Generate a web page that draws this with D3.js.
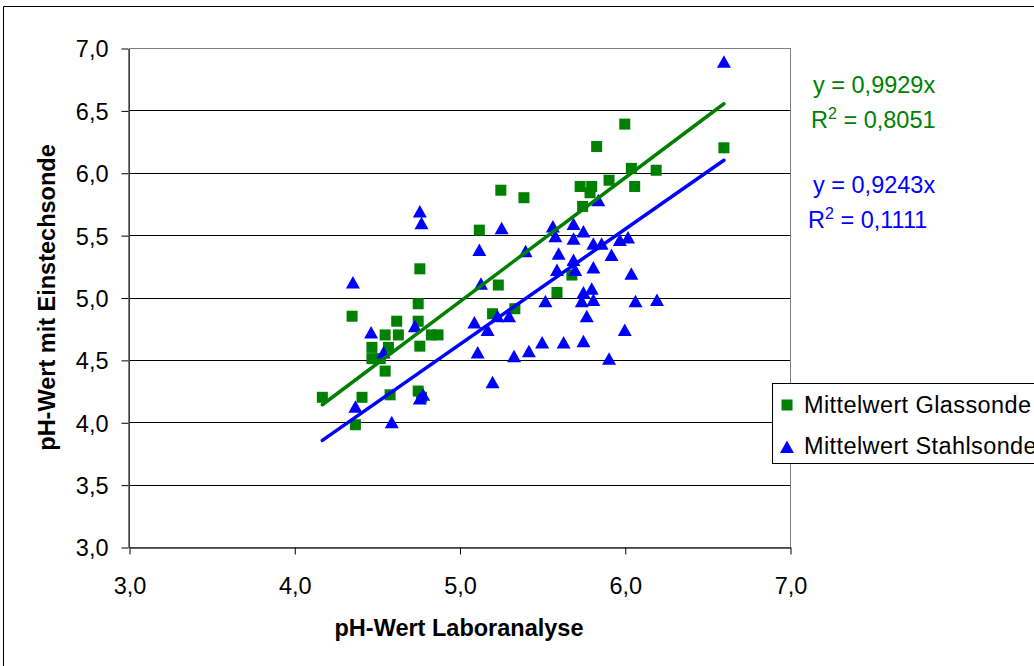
<!DOCTYPE html>
<html>
<head>
<meta charset="utf-8">
<script src="https://cdn.jsdelivr.net/npm/d3@7"></script>
<style>
  body { margin: 0; background: #fff; }
  svg { display: block; font-family: "Liberation Sans", Arial, sans-serif; }
</style>
</head>
<body>
<svg id="chart"></svg>
<script>
// Messwerte Glassonde (x = Labor, y = Sonde)
const glassX = [4.17, 4.35, 4.37, 4.41, 4.47, 4.47, 4.52, 4.55, 4.57, 4.55, 4.58, 4.62, 4.63, 4.75, 4.75, 4.76, 4.76, 4.75, 4.77, 4.83,
                4.87, 5.12, 5.20, 5.235, 5.25, 5.335, 5.39, 5.59, 5.68, 5.73, 5.745, 5.79, 5.80, 5.83, 5.905, 6.00, 6.04, 6.06, 6.19, 6.60];
const glassY = [4.20, 4.85, 3.98, 4.20, 4.60, 4.51, 4.51, 4.70, 4.60, 4.41, 4.22, 4.81, 4.70, 4.95, 4.81, 5.23, 4.61, 4.25, 4.20, 4.70,
                4.70, 5.54, 4.87, 5.10, 5.86, 4.91, 5.80, 5.04, 5.18, 5.89, 5.73, 5.84, 5.89, 6.21, 5.94, 6.39, 6.035, 5.89, 6.02, 6.20];

// Messwerte Stahlsonde
const stahlX = [4.355, 4.37, 4.465, 4.54, 4.59, 4.73, 4.76, 4.77, 4.76, 4.78, 5.09, 5.11, 5.12, 5.13, 5.17, 5.20, 5.23, 5.255, 5.30, 5.33,
                5.40, 5.42, 5.50, 5.52, 5.565, 5.58, 5.59, 5.60, 5.63, 5.69, 5.69, 5.69, 5.70, 5.74, 5.75, 5.75, 5.75, 5.77, 5.80, 5.81,
                5.81, 5.81, 5.84, 5.86, 5.905, 5.92, 5.97, 6.00, 6.02, 6.04, 6.065, 6.195, 6.60];
const stahlY = [5.12, 4.125, 4.72, 4.56, 4.00, 4.77, 5.69, 5.595, 4.19, 4.22, 4.80, 4.56, 5.38, 5.11, 4.74, 4.32, 4.85, 5.555, 4.85, 4.53,
                5.37, 4.57, 4.64, 4.97, 5.57, 5.49, 5.22, 5.35, 4.64, 5.59, 5.47, 5.30, 5.22, 4.97, 5.53, 5.04, 4.65, 4.85, 5.07, 5.43,
                5.24, 4.98, 5.78, 5.43, 4.51, 5.34, 5.46, 4.74, 5.48, 5.19, 4.97, 4.98, 6.89];

// Trendlinien (durch Ursprung) und Beschriftung
const slopes = [0.9929, 0.9243];
const eqLabels = ["y = 0,9929x", "y = 0,9243x"];
const r2Labels = [" = 0,8051", " = 0,1111"];
const seriesNames = ["Mittelwert Glassonde", "Mittelwert Stahlsonde"];
const colors = ["#008000", "#0000ff"];

// Achsen
const ticks = [3.0, 3.5, 4.0, 4.5, 5.0, 5.5, 6.0, 6.5, 7.0];
const xTicks = [3.0, 4.0, 5.0, 6.0, 7.0];

const width = 1034;
const height = 666;
const fs = 23.5;
const fmt = v => v.toFixed(1).replace('.', ',');

const svg = d3.select('#chart')
    .attr('width', width)
    .attr('height', height);

svg.append('rect').attr('width', width).attr('height', height).attr('fill', '#fff');

// Diagrammrahmen
svg.append('path')
    .attr('d', `M3.5,${height} V6.5 H${width}`)
    .attr('fill', 'none')
    .attr('stroke', '#000');

const x = d3.scaleLinear().domain([3, 7]).range([129, 790]);
const y = d3.scaleLinear().domain([3, 7]).range([547, 48]);

// Gitterlinien
svg.append('g')
    .selectAll('line')
    .data(ticks)
    .enter().append('line')
    .attr('x1', x(3)).attr('x2', x(7))
    .attr('y1', d => Math.round(y(d)) + 0.5)
    .attr('y2', d => Math.round(y(d)) + 0.5)
    .attr('stroke', '#000');

// Plotbereich
svg.append('rect')
    .attr('x', x(3) + 0.5).attr('y', Math.round(y(7)) + 0.5)
    .attr('width', x(7) - x(3)).attr('height', y(3) - y(7))
    .attr('fill', 'none')
    .attr('stroke', '#808080');

// Y-Achse
const yAxis = svg.append('g')
    .attr('transform', `translate(${x(3) - 0.5},0.5)`)
    .call(d3.axisLeft(y).tickValues(ticks).tickFormat(fmt).tickSizeInner(7).tickSizeOuter(0));
yAxis.select('.domain').attr('stroke', '#000');
yAxis.selectAll('.tick line').attr('stroke', '#000');
yAxis.selectAll('text')
    .attr('x', -20)
    .attr('dy', '0.36em')
    .style('font-size', fs + 'px')
    .style('font-family', '"Liberation Sans", Arial, sans-serif')
    .attr('fill', '#000');

// X-Achse
const xAxis = svg.append('g')
    .attr('transform', `translate(0.5,${y(3) + 0.5})`)
    .call(d3.axisBottom(x).tickValues(xTicks).tickFormat(fmt).tickSizeInner(7).tickSizeOuter(0));
xAxis.select('.domain').attr('stroke', '#333').attr('stroke-width', 1.5);
xAxis.selectAll('.tick line').attr('stroke', '#000');
xAxis.selectAll('text')
    .attr('y', 30)
    .attr('dy', '0.71em')
    .style('font-size', fs + 'px')
    .style('font-family', '"Liberation Sans", Arial, sans-serif')
    .attr('fill', '#000');

// Achsentitel
svg.append('text')
    .attr('x', 459).attr('y', 636)
    .attr('text-anchor', 'middle')
    .style('font-size', fs + 'px')
    .style('font-weight', 'bold')
    .text('pH-Wert Laboranalyse');

svg.append('text')
    .attr('transform', `translate(55,${(y(3) + y(7)) / 2}) rotate(-90)`)
    .attr('text-anchor', 'middle')
    .style('font-size', fs + 'px')
    .style('font-weight', 'bold')
    .text('pH-Wert mit Einstechsonde');

// Marker
const sq = 11;
const tri = 'M0,-6.5 L7,6 L-7,6 Z';

svg.append('g')
    .selectAll('rect')
    .data(d3.zip(glassX, glassY))
    .enter().append('rect')
    .attr('x', d => x(d[0]) - sq / 2)
    .attr('y', d => y(d[1]) - sq / 2)
    .attr('width', sq).attr('height', sq)
    .attr('fill', colors[0]);

svg.append('g')
    .selectAll('path')
    .data(d3.zip(stahlX, stahlY))
    .enter().append('path')
    .attr('d', tri)
    .attr('transform', d => `translate(${x(d[0])},${y(d[1])})`)
    .attr('fill', colors[1]);

// Trendlinien
const xExt = d3.extent(glassX.concat(stahlX));
svg.append('g')
    .selectAll('line')
    .data(slopes)
    .enter().append('line')
    .attr('x1', x(xExt[0])).attr('y1', (d) => y(d * xExt[0]))
    .attr('x2', x(xExt[1])).attr('y2', (d) => y(d * xExt[1]))
    .attr('stroke', (d, i) => colors[i])
    .attr('stroke-width', 3.5)
    .attr('stroke-linecap', 'round');

// Gleichungen
const eqPos = [[813, 93, 811, 128], [813, 193, 808, 228]];
eqLabels.forEach((lbl, i) => {
    svg.append('text')
        .attr('x', eqPos[i][0]).attr('y', eqPos[i][1])
        .attr('fill', colors[i])
        .style('font-size', fs + 'px')
        .text(lbl);
    const t = svg.append('text')
        .attr('x', eqPos[i][2]).attr('y', eqPos[i][3])
        .attr('fill', colors[i])
        .style('font-size', fs + 'px');
    t.append('tspan').text('R');
    t.append('tspan').attr('dy', -9).style('font-size', '16px').text('2');
    t.append('tspan').attr('dy', 9).text(r2Labels[i]);
});

// Legende
const legend = svg.append('g');
legend.append('rect')
    .attr('x', 772.5).attr('y', 383.5)
    .attr('width', 280).attr('height', 80)
    .attr('fill', '#fff')
    .attr('stroke', '#000');

const legendItem = legend.selectAll('.legend-item')
    .data(seriesNames)
    .enter().append('g')
    .attr('class', 'legend-item')
    .attr('transform', (d, i) => `translate(787,${405 + i * 41})`);

legendItem.filter((d, i) => i === 0).append('rect')
    .attr('x', -5.5).attr('y', -5.5).attr('width', 11).attr('height', 11)
    .attr('fill', colors[0]);
legendItem.filter((d, i) => i === 1).append('path')
    .attr('d', tri)
    .attr('transform', 'translate(0,1)')
    .attr('fill', colors[1]);

legendItem.append('text')
    .attr('x', 17).attr('y', 8)
    .style('font-size', fs + 'px')
    .style('letter-spacing', '0.4px')
    .text(d => d);
</script>
</body>
</html>
